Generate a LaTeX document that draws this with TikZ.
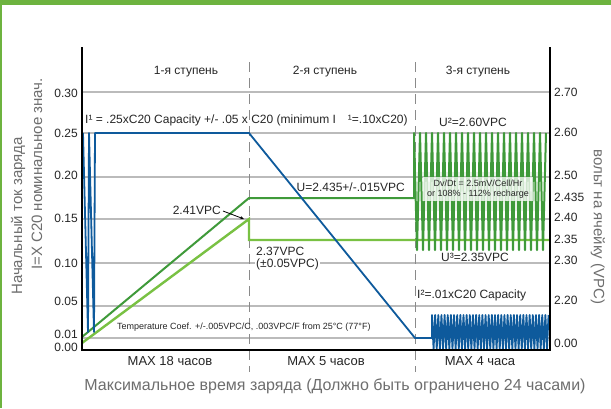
\documentclass[tikz,border=0pt]{standalone}
\usepackage{fontspec}
\setmainfont{Liberation Sans}
\usetikzlibrary{arrows.meta}
\definecolor{frameG}{HTML}{6DB33F}
\definecolor{gridC}{HTML}{BBBBBB}
\definecolor{dashC}{HTML}{8A8A8A}
\definecolor{blueL}{HTML}{0E5A9C}
\definecolor{darkG}{HTML}{3F9A3A}
\definecolor{lightG}{HTML}{79C143}
\definecolor{titleC}{HTML}{6E6E6E}
\definecolor{txtC}{HTML}{262626}
\begin{document}
\begin{tikzpicture}[x=1pt,y=-1pt,
  gridline/.style={gridC, line width=1.3pt},
  stagedash/.style={dashC, line width=1pt, dash pattern=on 10pt off 6pt},
  axisline/.style={black, line width=1.6pt},
  lbl/.style={inner sep=0pt, text=txtC, font=\fontsize{12}{13}\selectfont},
  smalllbl/.style={inner sep=0pt, text=txtC, font=\fontsize{9}{10.5}\selectfont},
  ticklbl/.style={inner sep=0pt, text=txtC, font=\fontsize{12}{13}\selectfont},
  axtitle/.style={inner sep=0pt, text=titleC, font=\fontsize{15}{16}\selectfont},
  bluecurve/.style={blueL, line width=1.8pt, line join=round},
  darkcurve/.style={darkG, line width=2pt, line join=round},
  lightcurve/.style={lightG, line width=2.4pt, line join=miter}
]
\useasboundingbox (0,0) rectangle (611,408);
\fill[white] (0,0) rectangle (611,408);
% frame
\fill[frameG] (0,0) rectangle (611,5);
\fill[frameG] (0,0) rectangle (2,408);

% gridlines
\foreach \yy in {92,133,177,219,263,306,338}
  \draw[gridline] (82,\yy) -- (550,\yy);

% stage separators
\draw[stagedash] (249,62) -- (249,372);
\draw[stagedash] (415,62) -- (415,372);

% curves
\draw[lightcurve] (82,343) -- (249,219) -- (249,240) -- (550,240);
\draw[darkcurve] (82,337) -- (249,198) -- (414,198) -- (414,133)
  \foreach \i in {0,...,21} { -- ({414+6*\i+3},250) -- ({414+6*\i+6},133) };
\draw[bluecurve] (83,133) -- (88,332) -- (89,133) -- (94,332) -- (95,133)
  -- (249,133) -- (415,338) -- (432,338) -- (432,315)
  \foreach \i in {0,...,36} { -- ({432+3.15*\i+1.575},349) -- ({432+3.15*\i+3.15},315) };

% axes
\draw[axisline] (82,47) -- (82,350) -- (550,350) -- (550,47);

% stage labels
\node[lbl] (st1) at (186,72) {1-я ступень};
\node[lbl] (st2) at (325,72) {2-я ступень};
\node[lbl] (st3) at (478,72) {3-я ступень};

% left tick labels
\foreach \yy/\t [count=\k] in {93/0.30,133/0.25,175/0.20,218/0.15,263/0.10,301/0.05,334/0.01,347/0.00}
  \node[ticklbl, anchor=east] (ly\k) at (78,\yy) {\t};
% right tick labels
\foreach \yy/\t [count=\k] in {92/2.70,132/2.60,175/2.50,197/2.435,217/2.40,239/2.35,260/2.30,300/2.20,343/0.00}
  \node[ticklbl, anchor=west] (ry\k) at (554,\yy) {\t};

% annotations
\node[lbl, anchor=west] (icap) at (85,120) {I¹ = .25xC20 Capacity +/- .05 x C20 (minimum I\hspace{12pt}¹=.10xC20)};
\node[lbl] (u2) at (473,122) {U²=2.60VPC};
\node[lbl, anchor=east] (u435) at (405,187) {U=2.435+/-.015VPC};
\node[lbl, anchor=east] (v241) at (221,210) {2.41VPC};
\coordinate (v241tip) at (244,219);
\draw[black, line width=0.8pt, -{Stealth[length=4pt,width=3.5pt]}] (v241.east) ++(2,1) -- (v241tip);
\node[lbl, anchor=west] (v237) at (256,251) {2.37VPC};
\node[lbl, anchor=west, fill=white, inner xsep=1pt, inner ysep=1pt] (v237b) at (255,264) {(±0.05VPC)};
\node[lbl] (u3) at (475,257) {U³=2.35VPC};
\node[lbl, anchor=west] (i2) at (417,295) {I²=.01xC20 Capacity};
\node[smalllbl, anchor=west] (temp) at (117,327) {Temperature Coef. +/-.005VPC/C, .003VPC/F from 25°C (77°F)};
\node[smalllbl, align=center, fill=white, fill opacity=0.75, text opacity=1, inner xsep=4pt, inner ysep=3pt] (dvdt) at (478,189) {Dv/Dt = 2.5mV/Cell/Hr\\or 108\% - 112\% recharge};

% bottom labels
\node[lbl, font=\fontsize{13}{14}\selectfont] (max18) at (170,361) {MAX 18 часов};
\node[lbl, font=\fontsize{13}{14}\selectfont] (max5) at (326,361) {MAX 5 часов};
\node[lbl, font=\fontsize{13}{14}\selectfont] (max4) at (480,361) {MAX 4 часа};
\node[axtitle, font=\fontsize{16}{17}\selectfont] (xtitle) at (335,386) {Максимальное время заряда (Должно быть ограничено 24 часами)};

% axis titles
\node[axtitle, rotate=90] (yt1) at (18,216) {Начальный ток заряда};
\node[axtitle, rotate=90] (yt2) at (37,174) {I=X C20 номинальное знач.};
\node[axtitle, rotate=-90] (yt3) at (598,227) {вольт на ячейку (VPC)};
\end{tikzpicture}
\end{document}
